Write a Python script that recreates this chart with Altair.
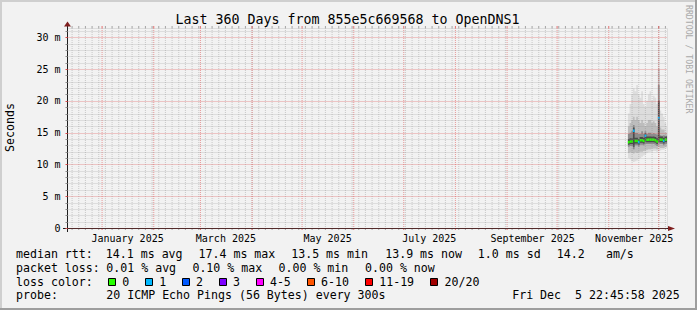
import altair as alt
import pandas as pd

# ---------------- values ----------------
title_text = "Last 360 Days from 855e5c669568 to OpenDNS1"
y_title = "Seconds"
watermark = "RRDTOOL / TOBI OETIKER"

graph_end = "2025-12-05 22:45:58"
graph_days = 360
y_max_ms = 31.46

# one consolidated step per day, starting Nov 12 2025 12:00 (UTC)
first_step = "2025-11-12 12:00:00"
smoke_max = [18.0, 19.5, 21.0, 22.0, 21.5, 22.5, 21.0, 20.5, 21.5, 19.5, 19.0, 20.0,
             21.0, 21.5, 20.0, 20.8, 20.5, 19.5, 29.5, 18.5, 18.0, 17.5, 16.5, 16.0]
smoke_hi2 = [16.0, 16.5, 17.0, 17.5, 17.0, 17.5, 17.0, 16.5, 17.0, 16.5, 16.0, 16.5,
             17.0, 17.0, 16.5, 16.8, 16.5, 16.0, 25.0, 15.8, 15.5, 15.5, 15.0, 15.0]
smoke_hi1 = [14.8, 15.0, 15.2, 16.2, 15.0, 15.0, 14.8, 14.8, 15.2, 14.8, 15.2, 14.8,
             15.0, 15.0, 14.8, 14.9, 14.8, 14.7, 22.5, 14.6, 14.5, 14.6, 14.5, 14.5]
smoke_hi0 = [14.0, 14.1, 14.1, 15.8, 14.2, 14.2, 14.0, 14.3, 14.3, 14.2, 14.9, 14.4,
             14.4, 14.4, 14.4, 14.4, 14.3, 14.1, 20.0, 14.4, 14.4, 14.2, 14.4, 14.4]
median_rtt = [13.5, 13.6, 13.6, 15.3, 13.7, 13.7, 13.5, 13.8, 13.8, 13.7, 14.5, 13.9,
              13.9, 13.9, 13.9, 13.9, 13.8, 13.6, 17.3, 13.9, 13.9, 13.7, 13.9, 13.9]
smoke_lo0 = [13.1, 13.2, 13.2, 12.8, 13.3, 13.3, 13.1, 13.4, 13.4, 13.3, 13.6, 13.5,
             13.5, 13.5, 13.5, 13.5, 13.4, 13.2, 13.6, 13.5, 13.5, 13.3, 13.5, 13.5]
smoke_lo1 = [12.8, 12.9, 12.9, 12.4, 13.0, 13.0, 12.8, 13.1, 13.1, 13.0, 13.2, 13.2,
             13.2, 13.2, 13.2, 13.2, 13.1, 12.9, 13.3, 13.2, 13.2, 13.0, 13.2, 13.2]
smoke_lo2 = [11.8, 11.9, 11.8, 11.7, 11.9, 11.8, 11.9, 12.0, 12.0, 12.1, 12.2, 12.3,
             12.4, 12.4, 12.5, 12.5, 12.5, 12.4, 12.8, 12.6, 12.6, 12.6, 12.8, 12.8]
smoke_min = [11.0, 10.8, 10.5, 10.4, 10.5, 10.6, 10.8, 11.0, 11.2, 11.4, 11.6, 11.8,
             11.9, 12.0, 12.0, 12.1, 12.1, 12.0, 12.2, 12.2, 12.3, 12.3, 12.5, 12.5]
loss_idx = [0, 0, 0, 1, 0, 0, 1, 0, 0, 0, 1, 0, 0, 0, 0, 0, 0, 0, 1, 0, 0, 1, 0, 0]

loss_labels = ["0", "1", "2", "3", "4-5", "6-10", "11-19", "20/20"]
loss_colors = ["#26ff00", "#00b8ff", "#0059ff", "#7e00ff", "#ff00ff", "#ff5500", "#ff0000", "#a10000"]

month_label_dates = ["2025-01-16", "2025-03-16", "2025-05-16", "2025-07-16", "2025-09-16", "2025-11-16"]
y_tick_values = list(range(0, 32))

rtt_stats = [14.1, 17.4, 13.5, 13.9]
rtt_stat_names = ["avg", "max", "min", "now"]
rtt_sd = 1.0
rtt_ams = 14.2
loss_stats = [0.01, 0.10, 0.00, 0.00]
loss_stat_names = ["avg", "max", "min", "now"]
probe_text = "20 ICMP Echo Pings (56 Bytes) every 300s"
date_text = "Fri Dec  5 22:45:58 2025"

# ---------------- style / layout ----------------
OX, OY = 67, 28          # plot origin on the page
W, H = 600, 200
FONT = "DejaVu Sans Mono"
BACK = "#f2f2f2"
GRID = "#8f8f8f"
MGRID = "#de4f4f"
GRID_OP = 0.42
MGRID_OP = 0.55
AXIS = "#1f1f1f"
ARROW = "#7f1f1f"
SMOKE = ["#dddddd", "#bdbdbd", "#8c8c8c", "#4b4b4b"]


def keep_spaces(s):
    # SVG collapses repeated blanks; keep them with no-break spaces
    return s.replace("  ", " \u00a0")


def ms(ts):
    return int(pd.Timestamp(ts, tz="UTC").value // 1_000_000)


end_ms = ms(graph_end)
start_ms = end_ms - graph_days * 86_400_000
steps = pd.date_range(first_step, periods=len(median_rtt), freq="D", tz="UTC")
step_ms = [int(s.value // 1_000_000) for s in steps]


def ext(a):
    return list(a) + [a[-1]]


smoke = pd.DataFrame({
    "t": step_ms + [end_ms],
    "smax": ext(smoke_max), "hi2": ext(smoke_hi2), "hi1": ext(smoke_hi1), "hi0": ext(smoke_hi0),
    "lo0": ext(smoke_lo0), "lo1": ext(smoke_lo1), "lo2": ext(smoke_lo2), "smin": ext(smoke_min),
})
med_df = pd.DataFrame({
    "t": step_ms, "t2": step_ms[1:] + [end_ms], "med": median_rtt,
    "loss": [loss_labels[i] for i in loss_idx],
})

month_ms = [int(s.value // 1_000_000) for s in pd.date_range("2025-01-01", "2025-12-01", freq="MS", tz="UTC")]
minor_ms = [int(s.value // 1_000_000) for s in pd.date_range("2024-12-14", "2025-12-05", freq="4D", tz="UTC")]
label_ms = [ms(d) for d in month_label_dates]

xscale = alt.Scale(type="utc", domain=[start_ms, end_ms])
yscale = alt.Scale(domain=[0, y_max_ms], nice=False, zero=False)

xaxis = alt.Axis(values=label_ms, labelExpr="utcFormat(datum.value, '%B %Y')", ticks=False, tickSize=0,
                 domain=False, grid=False, labelPadding=5, labelFont=FONT, labelFontSize=10,
                 labelColor="#000000", labelOverlap=False, labelFlush=False, title="")
yaxis = alt.Axis(values=y_tick_values,
                 labelExpr="datum.value % 5 === 0 ? (datum.value === 0 ? '0' : datum.value + ' m') : ''",
                 grid=True,
                 gridColor={"condition": {"test": "datum.value % 5 === 0", "value": MGRID}, "value": GRID},
                 gridOpacity={"condition": {"test": "datum.value % 5 === 0", "value": MGRID_OP}, "value": GRID_OP},
                 gridDash=[1, 1], gridWidth=1, domain=False,
                 ticks=True, tickSize=2,
                 tickColor={"condition": {"test": "datum.value % 5 === 0", "value": MGRID}, "value": GRID},
                 labelPadding=5, labelFont=FONT, labelFontSize=10, labelColor="#000000",
                 labelOverlap=False, title="", zindex=1)

X = alt.X("t:T", scale=xscale, axis=xaxis)


def band(lo, hi, color):
    return alt.Chart(smoke).mark_area(interpolate="step-after", color=color).encode(
        x=X, y=alt.Y(f"{hi}:Q", scale=yscale, axis=yaxis), y2=alt.Y2(f"{lo}:Q"))


layers = [
    band("smin", "smax", SMOKE[0]),
    band("lo2", "hi2", SMOKE[1]),
    band("lo1", "hi1", SMOKE[2]),
    band("lo0", "hi0", SMOKE[3]),
    alt.Chart(med_df).mark_rule(strokeWidth=2.5).encode(
        x=X, x2="t2:T", y=alt.Y("med:Q", scale=yscale, axis=yaxis),
        color=alt.Color("loss:N", scale=alt.Scale(domain=loss_labels, range=loss_colors), legend=None)),
]

minor_df = pd.DataFrame({"t": minor_ms})
major_df = pd.DataFrame({"t": month_ms})
for df, col, op in ((minor_df, GRID, GRID_OP), (major_df, MGRID, MGRID_OP)):
    layers.append(alt.Chart(df).mark_rule(color=col, strokeOpacity=op, strokeDash=[1, 1]).encode(x=X))
    layers.append(alt.Chart(df).mark_rule(color=col, strokeOpacity=0.8).encode(
        x=X, y=alt.value(H), y2=alt.value(H + 2)))
    layers.append(alt.Chart(df).mark_rule(color=col, strokeOpacity=0.8).encode(
        x=X, y=alt.value(-2), y2=alt.value(0)))

one = pd.DataFrame({"k": [0]})


def text(s, px, py, size=11.6, align="left", baseline="alphabetic", angle=0, color="#000000"):
    kw = dict(text=keep_spaces(s), font=FONT, fontSize=size, align=align, baseline=baseline, color=color)
    if angle:
        kw["angle"] = angle
    return alt.Chart(one).mark_text(**kw).encode(x=alt.value(px - OX), y=alt.value(py - OY))


def hline(x1, x2, y, color, width=1):
    return alt.Chart(one).mark_rule(color=color, strokeWidth=width).encode(
        x=alt.value(x1 - OX), x2=alt.value(x2 - OX), y=alt.value(y - OY))


def vline(x, y1, y2, color, width=1):
    return alt.Chart(one).mark_rule(color=color, strokeWidth=width).encode(
        x=alt.value(x - OX), y=alt.value(y1 - OY), y2=alt.value(y2 - OY))


# axis lines and arrows
layers += [
    vline(67.5, 232, 25, AXIS),
    hline(63, 670, 228.5, AXIS),
    alt.Chart(one).mark_point(shape="M-1,0.7L0,-0.7L1,0.7Z", size=49, filled=True, color=ARROW,
                              opacity=1).encode(x=alt.value(0.5), y=alt.value(-4)),
    alt.Chart(one).mark_point(shape="M-1,-0.7L1,0L-1,0.7Z", size=49, filled=True, color=ARROW,
                              opacity=1).encode(x=alt.value(604.5), y=alt.value(200.5)),
]

# titles
layers += [
    text(title_text, 347.5, 23.7, size=13.3, align="center"),
    text(y_title, 11, 127.5, align="center", baseline="middle", angle=270),
    text(watermark, 688.3, 5, size=8.2, baseline="middle", angle=90, color="#a9a9a9"),
]

# legend rows
row_y = [258.3, 271.9, 285.5, 299.1]
rtt_items = ["median rtt:"] + [f"{v:.1f} ms {n}" for v, n in zip(rtt_stats, rtt_stat_names)] + \
            [f"{rtt_sd:.1f} ms sd", f"{rtt_ams:.1f}", "am/s"]
rtt_x = [16, 105.8, 198.5, 291.2, 385.2, 477.8, 556.8, 605.9]
for s, px in zip(rtt_items, rtt_x):
    layers.append(text(s, px, row_y[0]))

loss_items = ["packet loss:"] + [f"{v:.2f} % {n}" for v, n in zip(loss_stats, loss_stat_names)]
loss_x = [16, 106.3, 192.4, 278.5, 365.0]
for s, px in zip(loss_items, loss_x):
    layers.append(text(s, px, row_y[1]))

layers.append(text("loss color:", 16, row_y[2]))
bx = 108.3
for lab, col in zip(loss_labels, loss_colors):
    b = round(bx)
    layers.append(alt.Chart(one).mark_rect(fill=col, stroke="#000000", strokeWidth=1).encode(
        x=alt.value(b + 0.5 - OX), x2=alt.value(b + 7.5 - OX),
        y=alt.value(278.5 - OY), y2=alt.value(285.5 - OY)))
    layers.append(text(lab, bx + 14, row_y[2]))
    bx += 29.8 + 7.1 * len(lab)

layers += [
    text("probe:", 16, row_y[3]),
    text(probe_text, 106.3, row_y[3]),
    text(date_text, 512.2, row_y[3]),
]

# canvas frame
layers += [
    hline(0, 697, 1, "#cfcfcf", 2),
    vline(1, 0, 310, "#cfcfcf", 2),
    hline(0, 697, 309, "#9e9e9e", 2),
    vline(696, 0, 310, "#9e9e9e", 2),
]

chart = alt.layer(*layers).properties(
    width=W, height=H, background=BACK,
    padding={"left": OX, "top": OY, "right": 697 - OX - W, "bottom": 310 - OY - H},
    autosize=alt.AutoSizeParams(type="none"),
).configure_view(fill="white", stroke="transparent").configure(font=FONT)

chart.save("out.html", embed_options={"renderer": "svg", "actions": False})
